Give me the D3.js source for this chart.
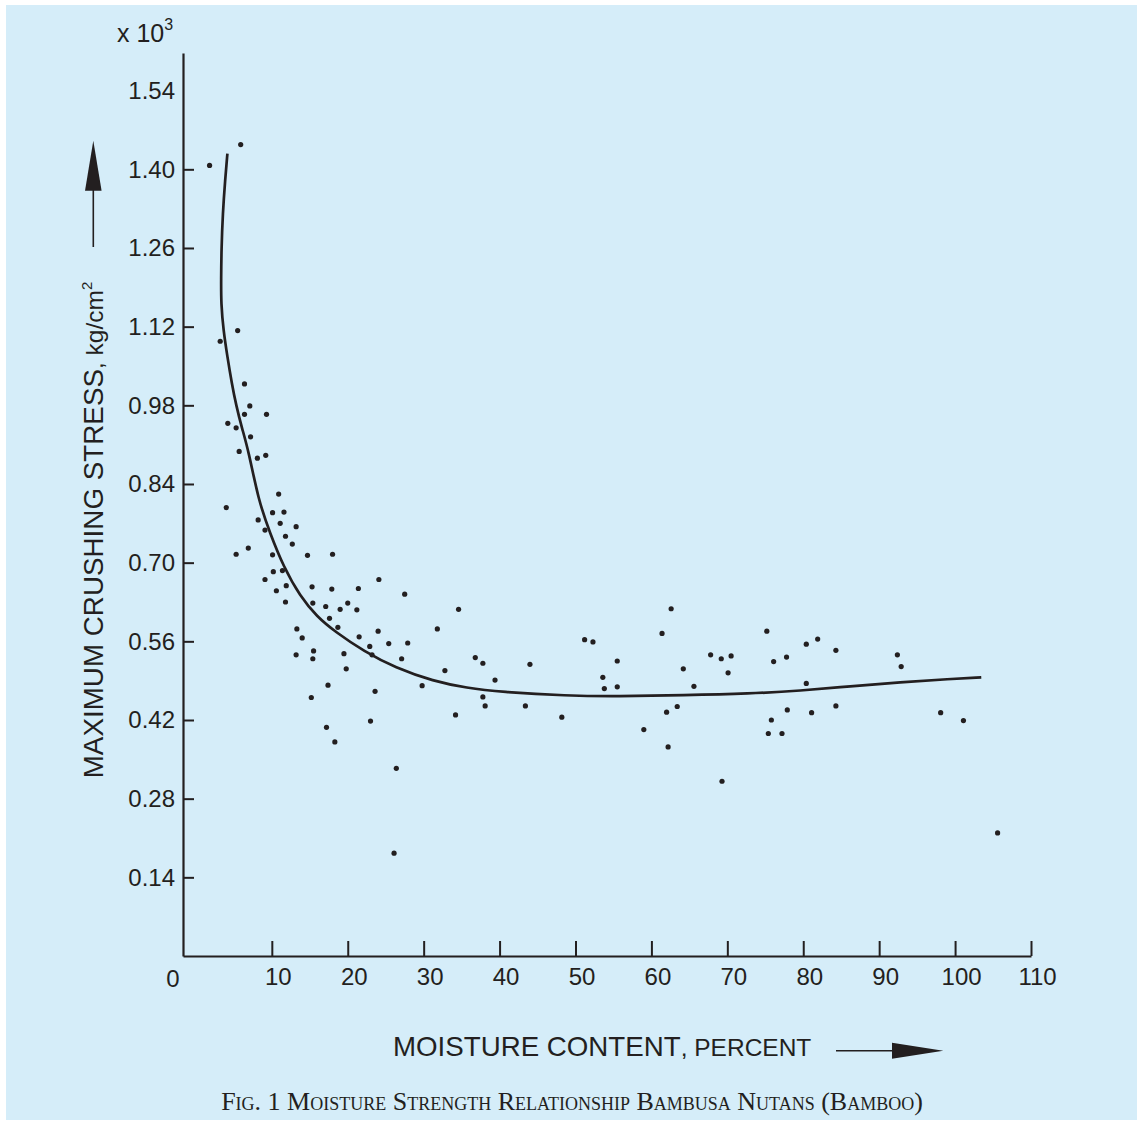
<!DOCTYPE html>
<html>
<head>
<meta charset="utf-8">
<script src="https://cdn.jsdelivr.net/npm/d3@7"></script>
<style>
  body { margin: 0; background: #fff; }
  svg { display: block; }
  text { font-family: "Liberation Sans", Arial, sans-serif; fill: #231f20; }
</style>
</head>
<body>
<div class="container"></div>
<script>
// measured points: moisture content (%) and max crushing stress (x 10^3 kg/cm2)
const moisture = [5.9, 1.8, 5.5, 3.2, 6.4, 7.1, 9.3, 6.4, 4.2, 5.3, 7.2, 5.7, 8.1, 9.2, 4.0,
  10.9, 10.1, 11.6, 8.2, 11.1, 9.1, 13.2, 11.8, 12.7, 5.3, 6.9, 10.1, 14.7, 18.0, 10.2,
  11.4, 9.1, 10.6, 11.9, 15.3, 17.9, 21.4, 24.1, 11.8, 15.4, 17.1, 20.0, 19.0, 21.2, 27.5,
  17.6, 18.7, 13.3, 14.0, 21.5, 24.0, 25.4, 27.9, 22.9, 23.2, 13.2, 15.5, 15.4, 19.5, 27.1,
  19.8, 17.4, 23.6, 15.2, 17.2, 18.3, 23.0, 26.4, 26.1, 31.8, 34.6, 32.8, 29.8, 36.8, 37.8,
  44.0, 39.4, 37.8, 38.1, 34.2, 43.4, 48.2, 51.2, 52.3, 55.5, 53.6, 53.8, 55.5, 62.6, 61.4,
  64.2, 65.6, 63.4, 62.0, 59.0, 62.2, 69.3, 67.8, 69.2, 70.5, 70.1, 75.2, 76.1, 77.8, 77.9,
  75.8, 75.4, 77.2, 80.4, 81.9, 84.3, 80.4, 81.1, 84.3, 92.4, 92.9, 98.1, 101.1, 105.6];
const stress = [1.444, 1.407, 1.113, 1.094, 1.018, 0.979, 0.964, 0.964, 0.948, 0.940, 0.924, 0.898, 0.886, 0.891, 0.798,
  0.822, 0.789, 0.790, 0.776, 0.770, 0.758, 0.764, 0.747, 0.733, 0.715, 0.726, 0.714, 0.713, 0.715, 0.684,
  0.686, 0.670, 0.650, 0.659, 0.657, 0.653, 0.654, 0.670, 0.630, 0.628, 0.622, 0.628, 0.617, 0.616, 0.644,
  0.601, 0.585, 0.582, 0.566, 0.568, 0.578, 0.556, 0.557, 0.551, 0.536, 0.536, 0.543, 0.529, 0.538, 0.529,
  0.511, 0.482, 0.471, 0.460, 0.407, 0.381, 0.418, 0.334, 0.183, 0.582, 0.617, 0.508, 0.481, 0.531, 0.521,
  0.519, 0.491, 0.461, 0.445, 0.429, 0.445, 0.425, 0.563, 0.559, 0.525, 0.496, 0.476, 0.479, 0.618, 0.574,
  0.511, 0.480, 0.444, 0.434, 0.403, 0.372, 0.311, 0.536, 0.529, 0.534, 0.504, 0.578, 0.524, 0.532, 0.438,
  0.420, 0.396, 0.396, 0.555, 0.564, 0.544, 0.485, 0.433, 0.445, 0.536, 0.515, 0.433, 0.419, 0.219];

// fitted curve
const curveMoisture = [4.15, 3.85, 3.54, 3.36, 3.32, 3.32, 3.62, 4.15, 4.73, 5.3, 6.05, 6.92, 8.23, 9.78,
  11.53, 13.73, 15.93, 18.34, 22.16, 26.25, 31.29, 35.69, 40.08, 48.87, 55.45, 64.23, 73.02, 79.6, 86.19,
  92.78, 99.37, 103.45];
const curveStress = [1.428, 1.381, 1.322, 1.256, 1.203, 1.161, 1.114, 1.066, 1.019, 0.98, 0.94, 0.9, 0.811, 0.752,
  0.693, 0.640, 0.604, 0.577, 0.542, 0.513, 0.489, 0.477, 0.47, 0.463, 0.462, 0.464, 0.467, 0.472, 0.480,
  0.487, 0.493, 0.496];

const xTicks = [10, 20, 30, 40, 50, 60, 70, 80, 90, 100, 110];
const yTicks = [0.14, 0.28, 0.42, 0.56, 0.70, 0.84, 0.98, 1.12, 1.26, 1.40, 1.54];

const W = 1141, H = 1123;
const ink = "#231f20";

const svg = d3.select("div.container").append("svg")
    .attr("width", W)
    .attr("height", H);

//panel background
svg.append("rect")
    .attr("x", 6).attr("y", 5)
    .attr("width", 1131).attr("height", 1115)
    .attr("fill", "#d5edf9");

const x = d3.scaleLinear().domain([-1.7, 110]).range([183, 1031]);
const y = d3.scaleLinear().domain([0, 1.607]).range([956, 53]);

//x axis, ticks pointing inward
const xAxis = svg.append("g")
    .attr("transform", `translate(0,${y(0)})`)
    .call(d3.axisBottom(x).tickValues(xTicks).tickSizeInner(-15).tickSizeOuter(0).tickPadding(12));
xAxis.select(".domain").attr("stroke", ink).attr("stroke-width", 2.2);
xAxis.selectAll(".tick line").attr("stroke", ink).attr("stroke-width", 2);
xAxis.selectAll(".tick text")
    .attr("dx", 6)
    .style("font-size", "24px")
    .style("font-family", "'Liberation Sans', Arial, sans-serif")
    .attr("fill", ink);

svg.append("text")
    .attr("x", x.range()[0] - 10)
    .attr("y", y(0) + 31)
    .attr("text-anchor", "middle")
    .style("font-size", "24px")
    .text("0");

//y axis
const yAxis = svg.append("g")
    .attr("transform", `translate(${x.range()[0]},0)`)
    .call(d3.axisLeft(y).tickValues(yTicks).tickFormat(d3.format(".2f")).tickSizeInner(-11).tickSizeOuter(0).tickPadding(8));
yAxis.select(".domain").attr("stroke", ink).attr("stroke-width", 2.2);
yAxis.selectAll(".tick line").attr("stroke", ink).attr("stroke-width", 2);
yAxis.selectAll(".tick").filter(d => d === 1.54).select("line").remove();
yAxis.selectAll(".tick text")
    .style("font-size", "24px")
    .style("font-family", "'Liberation Sans', Arial, sans-serif")
    .attr("fill", ink);

//x 10^3 multiplier
const mult = svg.append("text")
    .attr("x", 117)
    .attr("y", 42)
    .style("font-size", "25px");
mult.append("tspan").text("x 10");
mult.append("tspan").attr("dy", -12).style("font-size", "16px").text("3");

//fitted curve
const line = d3.line()
    .x((d, i) => x(curveMoisture[i]))
    .y((d, i) => y(curveStress[i]))
    .curve(d3.curveBasis);

svg.append("path")
    .datum(curveMoisture)
    .attr("d", line)
    .attr("fill", "none")
    .attr("stroke", ink)
    .attr("stroke-width", 2.7);

//points
svg.append("g").selectAll("circle")
    .data(moisture)
    .enter()
    .append("circle")
    .attr("cx", d => x(d))
    .attr("cy", (d, i) => y(stress[i]))
    .attr("r", 2.6)
    .attr("fill", ink);

//y label
const yLabel = svg.append("text")
    .attr("transform", "translate(103,530) rotate(-90)")
    .attr("text-anchor", "middle");
yLabel.append("tspan").style("font-size", "27.8px").text("MAXIMUM CRUSHING STRESS");
yLabel.append("tspan").style("font-size", "24.5px").text(", kg/cm");
yLabel.append("tspan").style("font-size", "15px").attr("dy", -11).text("2");

//up arrow
svg.append("line")
    .attr("x1", 93.3).attr("x2", 93.3)
    .attr("y1", 247).attr("y2", 188)
    .attr("stroke", ink).attr("stroke-width", 1.6);
svg.append("path")
    .attr("d", "M93.3,140.7 L85,190.7 L101.6,190.7 Z")
    .attr("fill", ink);

//x label
const xLabel = svg.append("text")
    .attr("x", 393)
    .attr("y", 1056);
xLabel.append("tspan").style("font-size", "27.7px").text("MOISTURE CONTENT");
xLabel.append("tspan").style("font-size", "24.5px").text(", PERCENT");

//right arrow
svg.append("line")
    .attr("x1", 836).attr("x2", 895)
    .attr("y1", 1050.7).attr("y2", 1050.7)
    .attr("stroke", ink).attr("stroke-width", 1.6);
svg.append("path")
    .attr("d", "M943.3,1050.7 L892,1042.7 L892,1058.7 Z")
    .attr("fill", ink);

//caption
svg.append("text")
    .attr("x", 572)
    .attr("y", 1110)
    .attr("text-anchor", "middle")
    .style("font-family", "'Liberation Serif', 'Times New Roman', serif")
    .style("font-variant", "small-caps")
    .style("font-size", "26px")
    .attr("fill", "#333")
    .text("Fig. 1 Moisture Strength Relationship Bambusa Nutans (Bamboo)");
</script>
</body>
</html>
